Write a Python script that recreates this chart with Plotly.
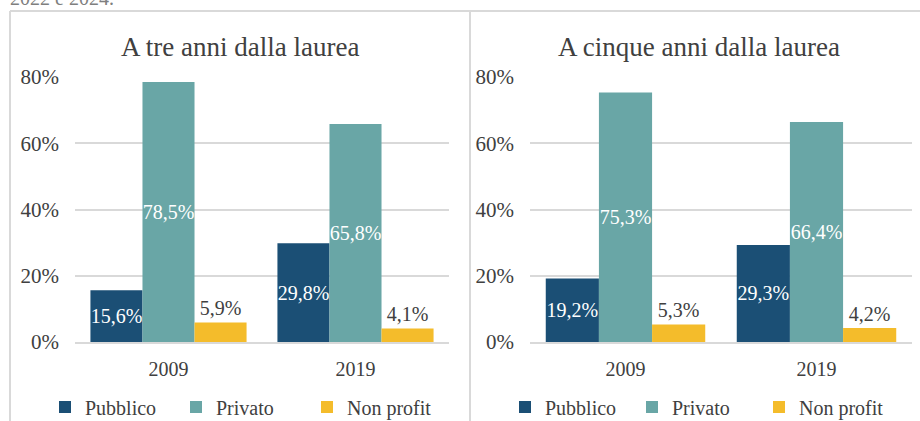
import plotly.graph_objects as go

W, H = 920, 421

years = ["2009", "2019"]
series = ["Pubblico", "Privato", "Non profit"]
colors = ["#1B4F75", "#69A6A6", "#F4BC2B"]

tre_anni = {
    "Pubblico": [0.156, 0.298],
    "Privato": [0.785, 0.658],
    "Non profit": [0.059, 0.041],
}
cinque_anni = {
    "Pubblico": [0.192, 0.293],
    "Privato": [0.753, 0.664],
    "Non profit": [0.053, 0.042],
}

titles = ["A tre anni dalla laurea", "A cinque anni dalla laurea"]
y_ticks = [0, 0.2, 0.4, 0.6, 0.8]

FONT = "Liberation Serif, serif"
TXT = "#404040"
GRID = "#D9D9D9"

def px(x):
    return x / W

def py(y):
    return (H - y) / H

fig = go.Figure()

panels = [(tre_anni, "x", "y", "legend"), (cinque_anni, "x2", "y2", "legend2")]
for data, xa, ya, lg in panels:
    for s, c in zip(series, colors):
        inside = s != "Non profit"
        fig.add_trace(go.Bar(
            x=years, y=data[s], name=s, marker_color=c,
            marker_line_width=0,
            xaxis=xa, yaxis=ya, legend=lg,
            texttemplate="%{y:.1%}",
            textposition="inside" if inside else "outside",
            insidetextanchor="middle",
            textangle=0,
            constraintext="none",
            textfont=dict(family=FONT, size=20, color="white" if inside else TXT),
            cliponaxis=False,
        ))

ydom = [py(342), py(77)]
axis_common = dict(showgrid=False, showline=True, linecolor=GRID, linewidth=1.5,
                   ticks="", tickfont=dict(family=FONT, size=20, color=TXT),
                   ticklabelstandoff=8, fixedrange=True, automargin=False)
yaxis_common = dict(range=[0, 0.8], tickvals=y_ticks, tickformat=".0%",
                    showgrid=True, gridcolor=GRID, gridwidth=1.5, zeroline=False,
                    showline=False, ticks="", automargin=False, fixedrange=True,
                    tickfont=dict(family=FONT, size=21, color=TXT),
                    ticklabelstandoff=15, domain=ydom)

fig.update_layout(
    width=W, height=H,
    margin=dict(l=0, r=0, t=0, b=0, autoexpand=False),
    paper_bgcolor="white", plot_bgcolor="white",
    separators=",.",
    barmode="group", bargap=0.165, bargroupgap=0,
    font=dict(family=FONT, color=TXT),
    xaxis=dict(domain=[px(75), px(449)], anchor="y", **axis_common),
    xaxis2=dict(domain=[px(530), px(912)], anchor="y2", **axis_common),
    yaxis=dict(anchor="x", **yaxis_common),
    yaxis2=dict(anchor="x2", **yaxis_common),
    legend=dict(orientation="h", x=px(45), xanchor="left", y=py(407), yanchor="middle",
                entrywidth=86, font=dict(family=FONT, size=20, color=TXT),
                bgcolor="rgba(0,0,0,0)"),
    legend2=dict(orientation="h", x=px(505), xanchor="left", y=py(407), yanchor="middle",
                 entrywidth=82, font=dict(family=FONT, size=20, color=TXT),
                 bgcolor="rgba(0,0,0,0)"),
    showlegend=True,
)

# panel titles
fig.add_annotation(text=titles[0], x=px(240), y=py(47), xref="paper", yref="paper",
                   xanchor="center", yanchor="middle",
                   showarrow=False, font=dict(family=FONT, size=27, color=TXT))
fig.add_annotation(text=titles[1], x=px(699), y=py(47), xref="paper", yref="paper",
                   xanchor="center", yanchor="middle",
                   showarrow=False, font=dict(family=FONT, size=27, color=TXT))
# cropped text from page above
fig.add_annotation(text="2022 e 2024.", x=px(8), y=py(11), xref="paper", yref="paper",
                   xanchor="left", yanchor="bottom", showarrow=False,
                   font=dict(family=FONT, size=20, color="#7F7F7F"))

# panel borders
line = dict(color=GRID, width=2)
fig.add_shape(type="line", xref="paper", yref="paper", x0=px(10), x1=1, y0=py(11), y1=py(11), line=line)
fig.add_shape(type="line", xref="paper", yref="paper", x0=px(10), x1=px(10), y0=py(11), y1=0, line=line)
fig.add_shape(type="line", xref="paper", yref="paper", x0=px(470), x1=px(470), y0=py(11), y1=0, line=line)

fig.write_html("out.html", config={"displayModeBar": False},
               post_script="document.body.style.margin='0';document.body.style.overflow='hidden';")
